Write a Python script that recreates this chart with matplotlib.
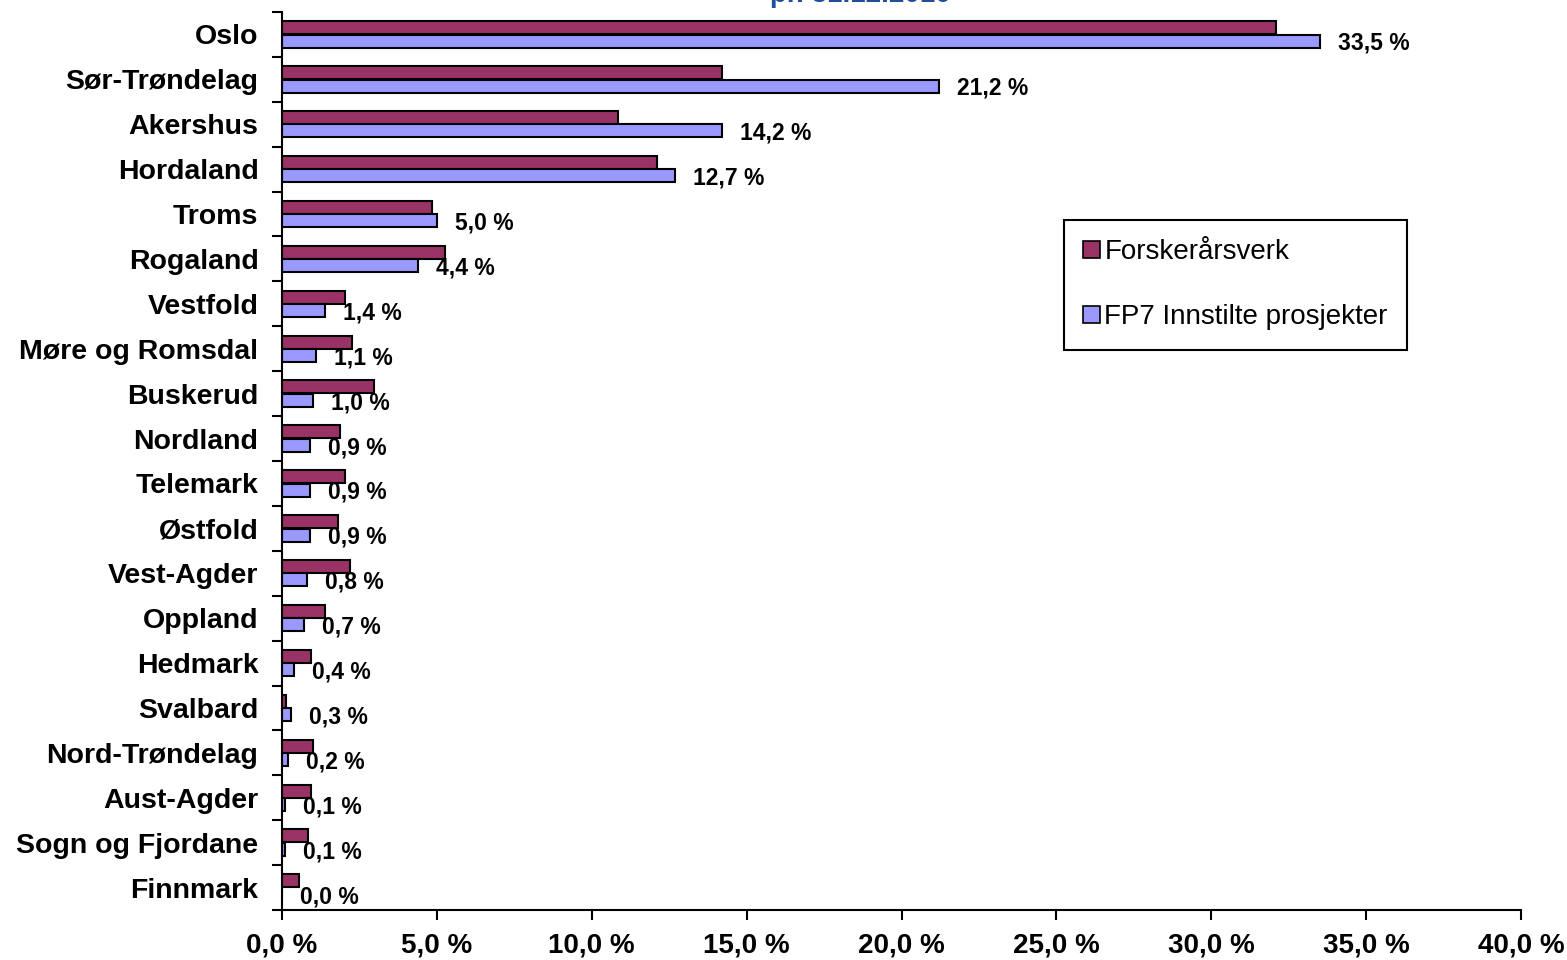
import matplotlib
matplotlib.use('Agg')
import matplotlib.pyplot as plt
from matplotlib.ticker import FuncFormatter, FixedLocator

fylker = ['Oslo', 'Sør-Trøndelag', 'Akershus', 'Hordaland', 'Troms', 'Rogaland',
          'Vestfold', 'Møre og Romsdal', 'Buskerud', 'Nordland', 'Telemark',
          'Østfold', 'Vest-Agder', 'Oppland', 'Hedmark', 'Svalbard',
          'Nord-Trøndelag', 'Aust-Agder', 'Sogn og Fjordane', 'Finnmark']
forskeraarsverk = [32.1, 14.2, 10.85, 12.1, 4.85, 5.26, 2.03, 2.26, 2.97, 1.87,
                   2.04, 1.81, 2.19, 1.40, 0.93, 0.12, 1.01, 0.93, 0.85, 0.55]
fp7 = [33.5, 21.2, 14.2, 12.7, 5.0, 4.4, 1.4, 1.1, 1.0, 0.9,
       0.9, 0.9, 0.8, 0.7, 0.4, 0.3, 0.2, 0.1, 0.1, 0.0]

plt.rcParams['font.family'] = ['Liberation Sans', 'DejaVu Sans']

fig = plt.figure(figsize=(15.67, 9.6), dpi=100)
ax = fig.add_axes([282 / 1567, 1 - 910 / 960, (1521 - 282) / 1567, (910 - 12) / 960])

pos = list(range(len(fylker)))
h = 0.29
ax.barh([p - 0.15 for p in pos], forskeraarsverk, height=h, color='#993366',
        edgecolor='black', linewidth=1.5, label='Forskerårsverk')
ax.barh([p + 0.15 for p in pos], fp7, height=h, color='#9999FF',
        edgecolor='black', linewidth=1.5, label='FP7 Innstilte prosjekter')

# data labels for FP7
for p, v in zip(pos, fp7):
    ax.annotate(('%.1f %%' % v).replace('.', ','), (v, p + 0.2),
                xytext=(13, 0), textcoords='offset points',
                ha='left', va='center', fontsize=16.5, fontweight='bold')

ax.set_xlim(0, 40)
ax.set_ylim(len(fylker) - 0.5, -0.5)
ax.xaxis.set_major_locator(FixedLocator([0, 5, 10, 15, 20, 25, 30, 35, 40]))
ax.xaxis.set_major_formatter(FuncFormatter(lambda x, _: ('%.1f %%' % x).replace('.', ',')))
ax.set_yticks(pos)
ax.set_yticklabels(fylker)
ax.set_yticks([p - 0.5 for p in range(len(fylker) + 1)], minor=True)
ax.tick_params(axis='y', which='major', length=0, pad=17, labelsize=20.5)
ax.tick_params(axis='y', which='minor', length=7, width=1.5, direction='out')
ax.tick_params(axis='x', length=7, width=1.5, direction='out', pad=9, labelsize=20)
for lab in ax.get_yticklabels() + ax.get_xticklabels():
    lab.set_fontweight('bold')

for s in ['top', 'right']:
    ax.spines[s].set_visible(False)
for s in ['left', 'bottom']:
    ax.spines[s].set_linewidth(1.5)

leg = ax.legend(loc='upper left', bbox_to_anchor=(1064 / 1567, 1 - 220 / 960),
                bbox_transform=fig.transFigure, fancybox=False, framealpha=1,
                edgecolor='black', fontsize=20, handlelength=0.6, handleheight=0.6,
                handletextpad=0.15, labelspacing=1.4, borderpad=0.7, borderaxespad=0)
leg.get_frame().set_linewidth(1.5)
for hnd in leg.legend_handles:
    hnd.set_linewidth(1.2)

# title is cut off at the top of the image
fig.text(0.549, 1 - 2 / 960, 'pr. 31.12.2010', ha='center', va='baseline',
         fontsize=20, fontweight='bold', color='#1F4E9A')

plt.savefig('out.png', dpi=100)
